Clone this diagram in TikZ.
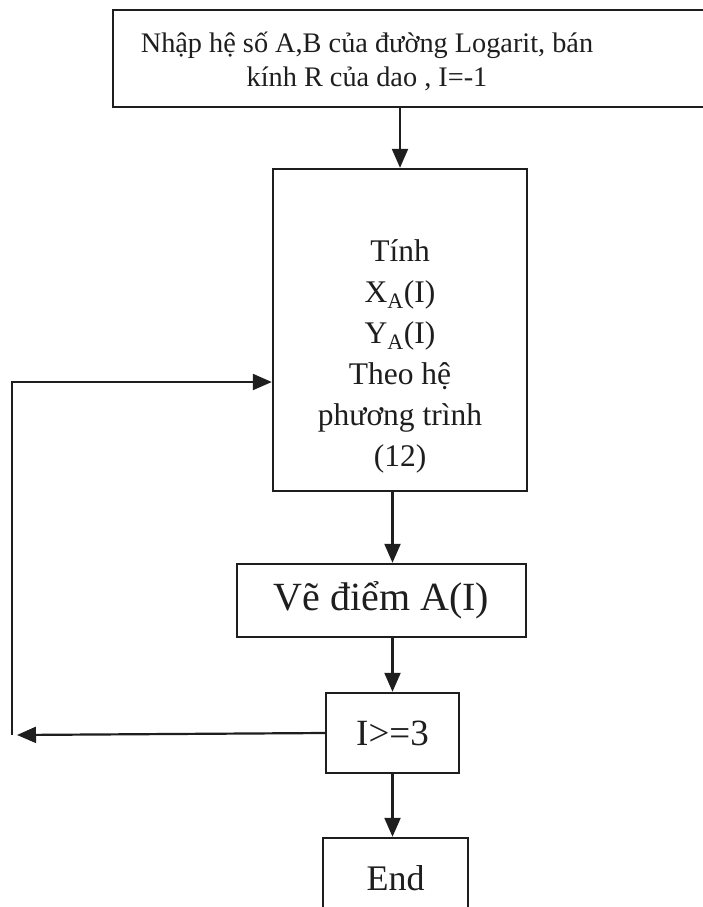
\documentclass[tikz,border=0pt]{standalone}
\usepackage{fontspec}
\setmainfont{Liberation Serif}
\usetikzlibrary{arrows.meta, positioning, fit}
\definecolor{ink}{HTML}{1E1E1E}

\begin{document}
\begin{tikzpicture}[
    x=1pt, y=-1pt,
    >={Triangle[length=19pt, width=16pt]},
    line width=2.2pt,
    every node/.style={text=ink},
    stepbox/.style={draw=ink, line width=2.4pt, inner sep=0pt, align=center},
    arr/.style={draw=ink, ->},
  ]

  % Background / page size
  \useasboundingbox (0,0) rectangle (703,907);
  \fill[white] (0,0) rectangle (703,907);
  \clip (0,0) rectangle (703,907);

  % === Input box (runs past the right edge) ===
  \node[stepbox, fit={(113,10) (760,107)}] (inbox) {};
  \node[font=\fontsize{28.3}{34}\selectfont, align=center] (intext) at (367,61)
    {Nhập hệ số A,B của đường Logarit, bán\\kính R của dao , I=-1};

  % === Compute box ===
  \node[stepbox, minimum width=254pt, minimum height=322pt,
        font=\fontsize{31.5}{41}\selectfont] (calc) at (400,330)
    {\rule{0pt}{74pt}Tính\\X\textsubscript{A}(I)\\Y\textsubscript{A}(I)\\Theo hệ\\phương trình\\(12)};

  % === Plot point ===
  \node[stepbox, minimum width=289pt, minimum height=73pt,
        font=\fontsize{40}{44}\selectfont] (plot) at (381.5,600.5) {Vẽ điểm A(I)};

  % === Test ===
  \node[stepbox, minimum width=133pt, minimum height=80pt,
        font=\fontsize{37}{40}\selectfont] (cond) at (392.5,733) {I>=3};

  % === End (cut by the bottom edge) ===
  \node[stepbox, minimum width=145pt, minimum height=80pt,
        font=\fontsize{36}{40}\selectfont] (stop) at (395.5,878) {End};

  % Flow down
  \draw[arr] (inbox.south -| calc.north) -- (calc.north);
  \draw[arr] (calc.south -| cond.north) -- (plot.north -| cond.north);
  \draw[arr] (plot.south -| cond.north) -- (cond.north);
  \draw[arr] (cond.south) -- (cond.south |- stop.north);

  % Loop back
  \coordinate (loopend) at (12,735);
  \coordinate (loopin) at (12,382);
  \draw[arr] (cond.west) -- ([xshift=5pt]loopend);
  \draw[arr] (loopend) -- (loopin) -- (loopin -| calc.west);

\end{tikzpicture}
\end{document}
